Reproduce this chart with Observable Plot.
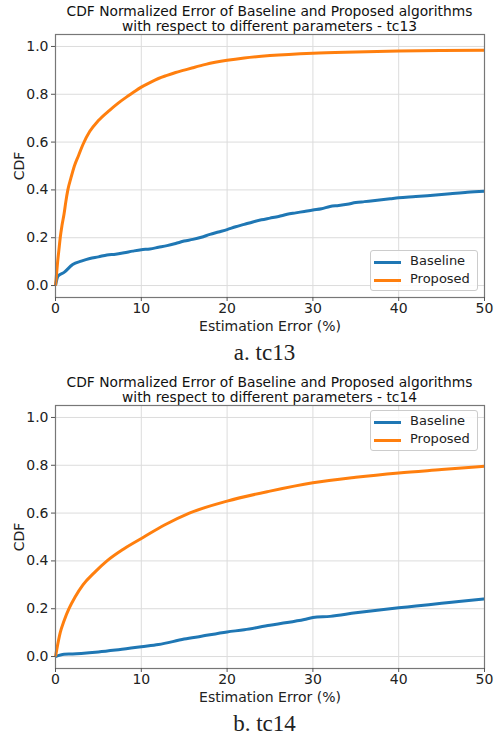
<!DOCTYPE html>
<html><head><meta charset="utf-8">
<script src="https://cdn.jsdelivr.net/npm/d3@7"></script>
<script src="https://cdn.jsdelivr.net/npm/@observablehq/plot@0.6"></script>
<style>
body{margin:0;background:#fff;}
#wrap{position:relative;width:501px;height:742px;font-family:"DejaVu Sans",sans-serif;color:#222;}
.panel{position:absolute;left:0;width:501px;height:340px;}
.title{position:absolute;left:35px;width:469px;text-align:center;font-size:13.8px;line-height:15px;top:4px;color:#111;white-space:nowrap;}
.cap{position:absolute;left:14px;width:501px;text-align:center;font-family:"Liberation Serif","DejaVu Serif",serif;font-size:23px;}
.legend{position:absolute;border:1px solid #ccc;border-radius:3px;background:rgba(255,255,255,0.85);font-size:13px;}
.legend div{position:absolute;left:0;white-space:nowrap;}
.legend span.sw{position:absolute;left:3px;width:27px;height:3px;}
.legend span.lb{position:absolute;left:39px;top:-8px;}
</style></head>
<body><div id="wrap"></div>
<script>
const xTicks = [0, 10, 20, 30, 40, 50];
const yTicks = [0, 0.2, 0.4, 0.6, 0.8, 1.0];
const seriesNames = ["Baseline", "Proposed"];
const colors = ["#1f77b4", "#ff7f0e"];
const titles = [
  "CDF Normalized Error of Baseline and Proposed algorithms\nwith respect to different parameters - tc13",
  "CDF Normalized Error of Baseline and Proposed algorithms\nwith respect to different parameters - tc14"
];
const captions = ["a. tc13", "b. tc14"];

// tc13
const tc13BaselineX = [0,0.3,1,2,3,4,5,6,7,8,9,10,11,12,13,14,15,16,17,18,19,20,21,22,23,24,25,26,27,28,29,30,31,32,33,34,35,36,37,38,39,40,42,44,46,48,50];
const tc13BaselineY = [0,0.04,0.055,0.088,0.102,0.113,0.12,0.128,0.131,0.137,0.144,0.15,0.153,0.16,0.167,0.176,0.186,0.193,0.202,0.214,0.224,0.234,0.246,0.256,0.266,0.275,0.282,0.289,0.298,0.304,0.31,0.316,0.321,0.331,0.335,0.34,0.347,0.351,0.355,0.359,0.363,0.367,0.372,0.378,0.384,0.39,0.394];
const tc13ProposedX = [0,0.1,0.25,0.4,0.55,0.75,1,1.2,1.44,1.8,2.2,2.7,3.2,4,5,6.3,7.2,8.26,9,10,11,12,13,14,15,16,17.5,20,22,25,30,35,40,45,50];
const tc13ProposedY = [0,0.04,0.1,0.15,0.2,0.25,0.3,0.35,0.4,0.45,0.5,0.545,0.59,0.645,0.69,0.733,0.76,0.788,0.806,0.83,0.849,0.866,0.879,0.891,0.901,0.911,0.925,0.942,0.952,0.962,0.972,0.977,0.981,0.983,0.984];

// tc14
const tc14BaselineX = [0,1,2,3,5,7,10,12,15,17,20,22,25,27,29,30,32,35,37,40,42,45,47,50];
const tc14BaselineY = [0,0.01,0.011,0.013,0.019,0.027,0.041,0.05,0.073,0.085,0.103,0.112,0.131,0.142,0.155,0.163,0.168,0.183,0.192,0.204,0.211,0.223,0.23,0.241];
const tc14ProposedX = [0,0.15,0.55,1,1.57,2.3,3.2,4.5,6,7.95,10.3,12.7,15.6,20,25,30,35,40,45,50];
const tc14ProposedY = [0,0.03,0.1,0.15,0.2,0.25,0.3,0.35,0.4,0.45,0.5,0.55,0.6,0.65,0.692,0.727,0.75,0.768,0.782,0.796];

function rows(xs, ys, name){ return xs.map((x,i)=>({x, y: ys[i], s: name})); }
const panels = [
  {data: [...rows(tc13BaselineX, tc13BaselineY, "Baseline"), ...rows(tc13ProposedX, tc13ProposedY, "Proposed")], top: 0, legendTop: 250},
  {data: [...rows(tc14BaselineX, tc14BaselineY, "Baseline"), ...rows(tc14ProposedX, tc14ProposedY, "Proposed")], top: 371, legendTop: 39}
];

const wrap = document.getElementById("wrap");
panels.forEach((p, k) => {
  const div = document.createElement("div");
  div.className = "panel"; div.style.top = p.top + "px";
  const chart = Plot.plot({
    width: 501, height: 340,
    marginTop: 34, marginBottom: 43, marginLeft: 55, marginRight: 17,
    style: {fontFamily: "DejaVu Sans, sans-serif", fontSize: "14px", color: "#222", background: "transparent", overflow: "visible"},
    x: {domain: [0, 50]},
    y: {domain: [-0.05, 1.05]},
    color: {domain: seriesNames, range: colors},
    marks: [
      Plot.gridX(xTicks, {stroke: "#dcdcdc", strokeOpacity: 1}),
      Plot.gridY(yTicks, {stroke: "#dcdcdc", strokeOpacity: 1}),
      Plot.lineY(p.data, {x: "x", y: "y", stroke: "s", strokeWidth: 3, z: "s", curve: "monotone-x", strokeLinejoin: "round", strokeLinecap: "butt"}),
      Plot.frame({stroke: "#777", strokeWidth: 1.2}),
      Plot.axisX({ticks: xTicks, tickSize: 4, tickPadding: 2, tickFormat: d3.format("d"), fontSize: "14px", stroke: "#555",
                  label: "Estimation Error (%)", labelAnchor: "center", labelArrow: "none", labelOffset: 33}),
      Plot.axisY({ticks: yTicks, tickSize: 4, tickPadding: 3, tickFormat: d3.format(".1f"), fontSize: "14px", stroke: "#555",
                  label: "CDF", labelAnchor: "center", labelArrow: "none", labelOffset: 41})
    ]
  });
  div.appendChild(chart);
  const t = document.createElement("div");
  t.className = "title"; t.innerHTML = titles[k].replace("\n", "<br>");
  div.appendChild(t);
  const lg = document.createElement("div");
  lg.className = "legend";
  lg.style.left = "370px"; lg.style.top = p.legendTop + "px"; lg.style.width = "106px"; lg.style.height = "39px";
  seriesNames.forEach((n, i) => {
    const row = document.createElement("div");
    row.style.top = (10 + i * 18) + "px";
    row.innerHTML = `<span class="sw" style="background:${colors[i]}"></span><span class="lb">${n}</span>`;
    lg.appendChild(row);
  });
  div.appendChild(lg);
  wrap.appendChild(div);
  const c = document.createElement("div");
  c.className = "cap"; c.textContent = captions[k];
  c.style.top = (p.top + 340) + "px";
  wrap.appendChild(c);
});
</script></body></html>
